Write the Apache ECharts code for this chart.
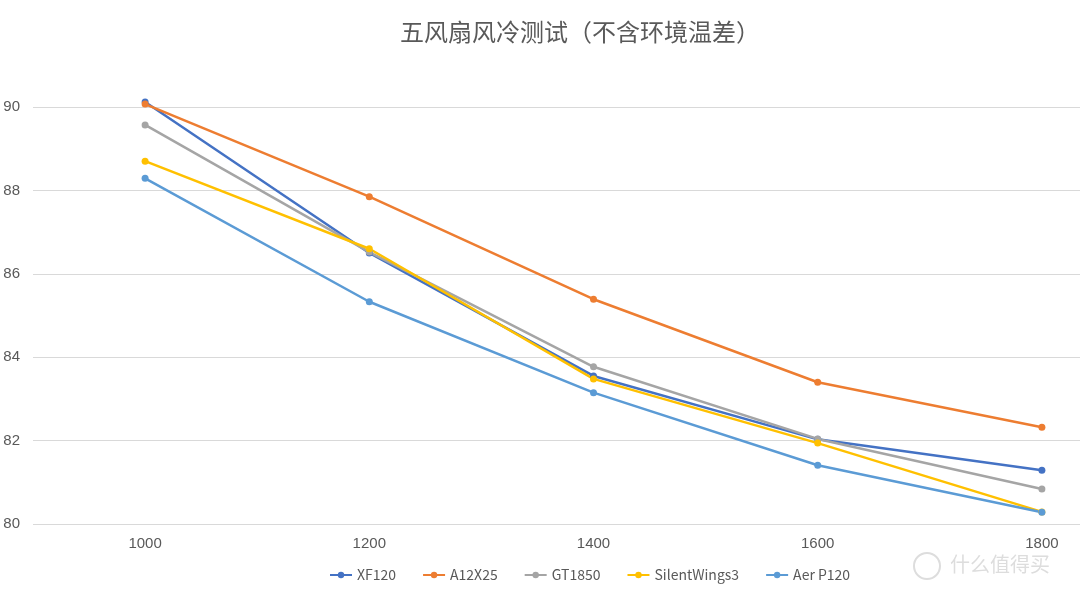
<!DOCTYPE html>
<html><head><meta charset="utf-8">
<script src="https://cdn.jsdelivr.net/npm/echarts@6/dist/echarts.min.js"></script>
<style>html,body{margin:0;padding:0;background:#fff}#c{width:1080px;height:591px}</style>
</head><body><div id="c"></div>
<script>
const categories = ['1000','1200','1400','1600','1800'];
const xf120 = [90.12, 86.50, 83.55, 82.03, 81.29];
const a12x25 = [90.07, 87.85, 85.39, 83.40, 82.32];
const gt1850 = [89.57, 86.52, 83.77, 82.04, 80.84];
const silentWings3 = [88.70, 86.60, 83.48, 81.94, 80.29];
const aerP120 = [88.29, 85.33, 83.15, 81.41, 80.28];
const seriesNames = ['XF120','A12X25','GT1850','SilentWings3','Aer P120'];
const colors = ['#4472C4','#ED7D31','#A5A5A5','#FFC000','#5B9BD5'];
const allData = [xf120, a12x25, gt1850, silentWings3, aerP120];

const chart = echarts.init(document.getElementById('c'));
chart.setOption({
  animation: false,
  title: { text: '五风扇风冷测试（不含环境温差）', left: 575, textAlign: 'center', top: 15,
    textStyle: { fontSize: 24, fontWeight: 'normal', color: '#595959', fontFamily: 'Noto Sans CJK SC' } },
  legend: { left: 324, top: 563, itemWidth: 22, itemHeight: 8, itemGap: 26,
    textStyle: { fontSize: 14, color: '#595959', fontFamily: 'Noto Sans CJK SC' },
    data: seriesNames },
  grid: { left: 33, width: 1121, top: 107, bottom: 67, outerBoundsMode: 'none', containLabel: false },
  xAxis: { type: 'category', data: categories, boundaryGap: true,
    axisLine: { show: false }, axisTick: { show: false },
    axisLabel: { fontSize: 15, color: '#595959', margin: 12 } },
  yAxis: { type: 'value', min: 80, max: 90, interval: 2,
    axisLine: { show: false }, axisTick: { show: false },
    axisLabel: { fontSize: 15, color: '#595959', margin: 13 },
    splitLine: { lineStyle: { color: '#D9D9D9', width: 1 } } },
  series: allData.map((d, i) => ({
    name: seriesNames[i], type: 'line', data: d, clip: false,
    symbol: 'circle', symbolSize: 7,
    lineStyle: { width: 2.5, color: colors[i] },
    itemStyle: { color: colors[i] }
  })),
  graphic: [
    { type: 'circle', shape: { cx: 927, cy: 566, r: 13 }, style: { fill: 'none', stroke: '#ddd', lineWidth: 2 } },
    { type: 'text', left: 950, top: 554, style: { text: '什么值得买', fontSize: 20, fill: '#ddd', fontFamily: 'Noto Sans CJK SC' } }
  ]
});
</script></body></html>
